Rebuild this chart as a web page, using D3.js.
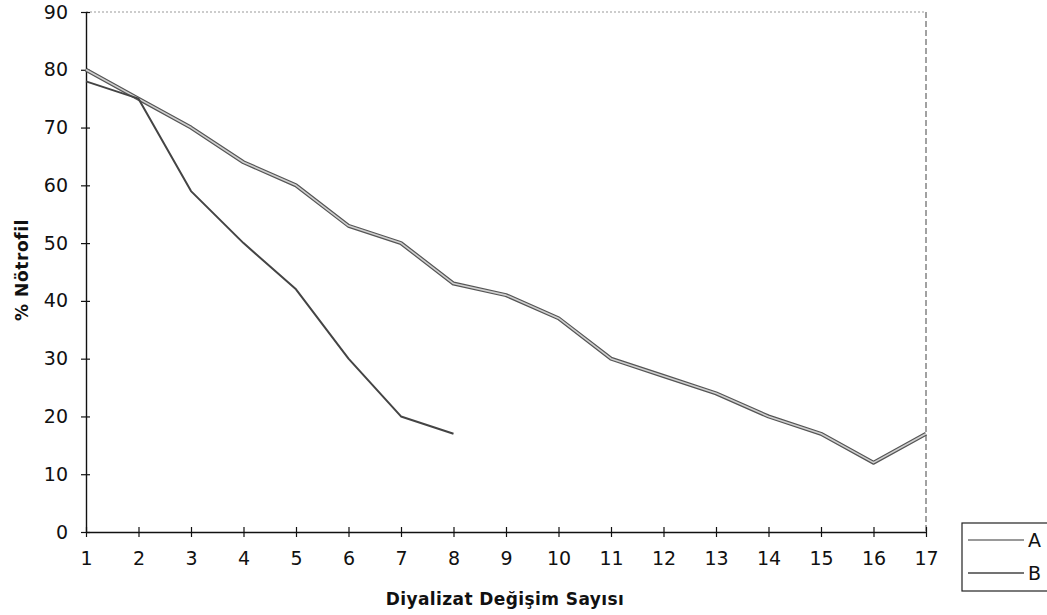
<!DOCTYPE html>
<html><head><meta charset="utf-8">
<script src="https://cdn.jsdelivr.net/npm/d3@7"></script>
<style>body{margin:0;background:#fff}svg{display:block}</style>
</head><body>
<svg id="c" width="1047" height="615"></svg>
<script>
const xCategories = [1,2,3,4,5,6,7,8,9,10,11,12,13,14,15,16,17];
const seriesA = [80,75,70,64,60,53,50,43,41,37,30,27,24,20,17,12,17];
const seriesB = [78,75,59,50,42,30,20,17];
const yTicks = [0,10,20,30,40,50,60,70,80,90];
const seriesNames = ["A","B"];

const svg = d3.select("#c");
const L = 86, R = 926, T = 12, B = 532;
const x = d3.scaleLinear().domain([1,17]).range([L,R]);
const y = d3.scaleLinear().domain([0,90]).range([B,T]);
const font = "'DejaVu Sans', Verdana, sans-serif";

// plot border top (faint dotted) and right (dashed)
svg.append("line").attr("x1",L).attr("x2",R).attr("y1",T).attr("y2",T)
  .attr("stroke","#999").attr("stroke-width",1).attr("stroke-dasharray","2,2");
svg.append("line").attr("x1",R).attr("x2",R).attr("y1",T).attr("y2",B)
  .attr("stroke","#444").attr("stroke-width",1).attr("stroke-dasharray","6,3");

// axes
const yAxis = d3.axisLeft(y).tickValues(yTicks).tickSizeInner(5).tickSizeOuter(0).tickPadding(13);
const gy = svg.append("g").attr("transform",`translate(${L},0)`).call(yAxis);
gy.selectAll(".tick line").attr("x2",4).attr("x1",-5);
const xAxis = d3.axisBottom(x).tickValues(xCategories).tickSizeInner(5).tickSizeOuter(0).tickPadding(15);
const gx = svg.append("g").attr("transform",`translate(0,${B})`).call(xAxis);
gx.selectAll(".tick line").attr("y1",-5).attr("y2",5);
[gx,gy].forEach(g=>{
  g.select(".domain").attr("stroke","#111").attr("stroke-width",1.4);
  g.selectAll(".tick line").attr("stroke","#111").attr("stroke-width",1.2);
  g.selectAll("text").attr("font-family",font).attr("font-size",19).attr("fill","#111");
});

// lines
const line = d3.line().x((d,i)=>x(xCategories[i])).y(d=>y(d));
// A: gray with dark edges
svg.append("path").datum(seriesA).attr("d",line).attr("fill","none")
  .attr("stroke","#555").attr("stroke-width",4).attr("stroke-linejoin","round");
svg.append("path").datum(seriesA).attr("d",line).attr("fill","none")
  .attr("stroke","#d0d0d0").attr("stroke-width",1.6).attr("stroke-linejoin","round");
// B: dark
svg.append("path").datum(seriesB).attr("d",line).attr("fill","none")
  .attr("stroke","#444").attr("stroke-width",2).attr("stroke-linejoin","round");

// axis titles
svg.append("text").attr("x",505).attr("y",605).attr("text-anchor","middle")
  .attr("font-family",font).attr("font-weight","bold").attr("font-size",17)
  .attr("letter-spacing",0.4).attr("fill","#111")
  .text("Diyalizat Değişim Sayısı");
svg.append("text").attr("transform",`translate(28,270) rotate(-90)`).attr("text-anchor","middle")
  .attr("font-family",font).attr("font-weight","bold").attr("font-size",17)
  .attr("letter-spacing",0.6).attr("fill","#111")
  .text("% Nötrofil");

// legend
const lg = svg.append("g");
lg.append("rect").attr("x",962).attr("y",523).attr("width",100).attr("height",68)
  .attr("fill","#fff").attr("stroke","#222").attr("stroke-width",1.2);
const ly = [540,573];
seriesNames.forEach((n,i)=>{
  lg.append("line").attr("x1",968).attr("x2",1024).attr("y1",ly[i]).attr("y2",ly[i])
    .attr("stroke", i===0 ? "#777" : "#444").attr("stroke-width",1.5);
  lg.append("text").attr("x",1028).attr("y",ly[i]+7).attr("font-family",font)
    .attr("font-size",19).attr("fill","#111").text(n);
});
</script>
</body></html>
